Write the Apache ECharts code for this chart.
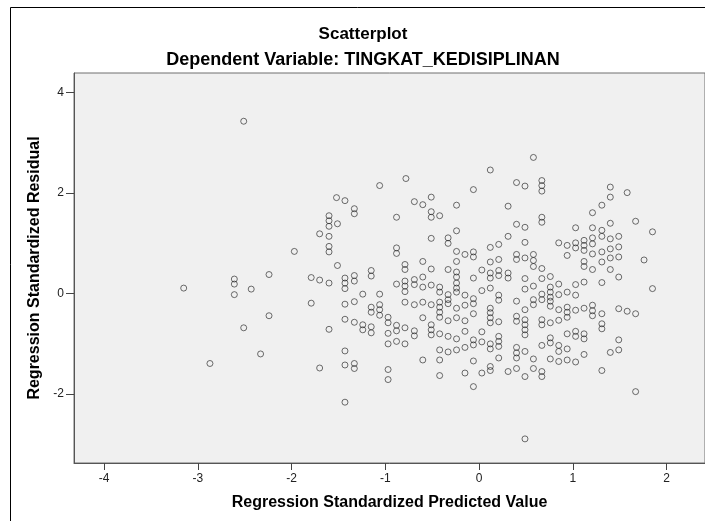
<!DOCTYPE html>
<html><head><meta charset="utf-8">
<script src="https://cdn.jsdelivr.net/npm/echarts@6/dist/echarts.min.js"></script>
<style>html,body{margin:0;padding:0;background:#fff}#c{width:705px;height:521px}</style>
</head><body><div id="c"></div>
<script>
const titleText = 'Scatterplot';
const subtitleText = 'Dependent Variable: TINGKAT_KEDISIPLINAN';
const xAxisName = 'Regression Standardized Predicted Value';
const yAxisName = 'Regression Standardized Residual';
const xTicks = [-4, -3, -2, -1, 0, 1, 2];
const yTicks = [-2, 0, 2, 4];

const predicted = [
  -2.51,-3.15,-2.61,-2.61,-2.61,-2.43,-2.51,-2.87,
  -1.06,-1.52,-1.43,-1.33,-1.33,-0.88,-1.60,-1.60,-1.51,-1.60,-1.70,-1.60,-1.97,-1.60,-1.60,-0.88,-0.88,
  -1.51,-2.24,-1.79,-1.70,-1.60,-1.43,-1.43,-1.43,-1.33,-1.33,-1.15,-1.15,
  -0.88,-1.79,-1.43,-1.33,-1.24,-1.06,-1.15,-1.15,-1.06,-1.06,-1.06,-2.24,
  -1.60,-1.43,-1.33,-1.24,-1.24,-1.15,-1.15,-0.97,-0.97,-0.88,-0.88,-0.97,
  -0.97,-0.88,-2.33,-1.43,-1.70,-1.43,-1.33,-1.33,-0.97,-0.97,-1.43,
  -0.78,-0.69,-0.60,-0.51,-0.51,-0.51,-0.42,-0.24,-0.06,0.12,0.31,0.40,
  0.49,0.58,0.67,0.67,0.67,0.67,0.67,0.40,0.49,0.31,0.49,0.21,
  0.12,-0.24,-0.33,-0.33,-0.51,-0.24,-0.15,-0.06,-0.06,0.40,0.40,0.49,
  0.58,0.58,
  -0.60,-0.24,0.12,0.21,-0.79,-0.79,-0.51,-0.33,-0.24,-0.24,-0.24,-0.24,
  -0.24,-0.06,0.03,0.12,0.12,0.21,0.21,0.31,0.31,0.49,0.67,-0.79,
  -0.79,-0.79,-0.69,-0.69,-0.60,-0.60,-0.51,-0.42,-0.42,-0.33,-0.33,-0.15,
  -0.06,-0.06,0.03,0.12,0.21,0.21,0.40,0.49,0.58,-0.79,-0.69,-0.60,
  -0.51,-0.42,-0.42,-0.42,-0.42,-0.33,-0.24,-0.24,-0.33,-0.15,-0.15,-0.06,
  -0.60,0.12,0.12,0.12,0.12,0.21,0.40,0.40,0.49,0.49,0.49,0.49,
  0.49,0.58,0.58,0.67,0.67,0.67,0.67,-0.79,-0.79,-0.69,-0.69,-0.51,
  -0.51,-0.51,-0.42,-0.33,-0.24,-0.15,-0.06,-0.06,0.03,0.03,0.12,0.12,
  0.21,0.21,0.21,0.21,0.31,0.40,0.40,0.40,0.40,0.49,0.49,0.58,
  0.58,0.67,0.67,0.67,-0.60,-0.42,-0.42,-0.33,-0.24,-0.15,-0.06,-0.42,
  -0.15,0.03,0.12,0.12,-0.06,0.49,0.58,0.67,
  1.40,1.40,1.58,1.31,1.21,1.67,1.40,1.85,1.03,1.21,1.31,1.31,
  1.21,1.40,1.49,0.85,0.94,1.03,1.03,1.12,1.12,1.12,1.21,1.31,
  1.40,1.49,0.94,1.21,1.40,1.49,
  1.76,1.12,1.12,1.21,1.31,1.40,1.49,1.31,1.12,1.03,0.76,0.76,
  0.76,0.76,0.76,0.76,0.85,0.85,0.94,1.03,0.85,0.94,0.94,0.94,
  1.03,1.12,1.21,1.21,1.21,1.31,1.49,1.58,1.67,1.31,1.31,0.76,
  0.85,0.94,1.03,1.03,1.12,1.12,0.76,0.76,0.85,0.85,0.94,1.12,
  1.49,1.49,1.40,0.76,0.85,0.94,1.03,1.31,1.67,1.85
];

const residual = [
  3.43,0.11,0.29,0.19,-0.02,0.09,-0.68,-1.39,
  2.15,1.91,1.85,1.69,1.59,1.52,1.55,1.45,1.39,1.34,1.19,1.14,0.84,0.94,0.83,0.91,0.80,
  0.56,0.38,0.32,0.27,0.21,0.31,0.21,0.10,0.36,0.25,0.46,0.35,
  0.19,-0.19,-0.21,-0.16,-0.01,-0.01,-0.27,-0.37,-0.22,-0.32,-0.43,-0.44,
  -0.71,-0.51,-0.57,-0.62,-0.72,-0.66,-0.78,-0.47,-0.58,-0.63,-0.74,-0.79,
  -1.00,-0.95,-1.20,-1.14,-1.48,-1.42,-1.39,-1.49,-1.51,-1.71,-2.16,
  2.29,1.83,1.77,1.92,1.63,1.52,1.55,1.76,2.07,2.46,1.74,2.21,
  2.14,2.71,2.25,2.15,2.04,1.52,1.42,1.38,1.32,1.14,1.02,0.98,
  0.92,1.25,1.11,1.00,1.10,0.84,0.78,0.83,0.73,0.78,0.68,0.71,
  0.78,0.66,
  0.64,0.64,0.63,0.68,0.58,0.48,0.49,0.48,0.43,0.33,0.21,0.11,
  0.03,0.31,0.47,0.41,0.31,0.46,0.36,0.41,0.31,0.30,0.30,0.25,
  0.15,0.04,0.28,0.18,0.33,0.13,0.17,0.13,0.03,-0.02,-0.12,-0.03,
  -0.10,-0.20,0.06,0.11,-0.03,-0.13,-0.15,0.09,0.15,-0.17,-0.22,-0.17,
  -0.22,-0.17,-0.27,-0.37,-0.47,-0.20,-0.29,-0.48,-0.54,-0.23,-0.54,-0.40,
  -0.48,-0.29,-0.38,-0.48,-0.58,-0.56,-0.45,-0.55,-0.32,-0.52,-0.62,-0.72,
  -0.82,-0.12,-0.22,-0.01,-0.12,-0.52,-0.62,-0.68,-1.00,-0.74,-0.84,-0.62,
  -0.72,-0.82,-0.80,-0.85,-0.90,-0.75,-0.92,-1.02,-0.76,-0.96,-1.00,-1.10,
  -0.85,-0.95,-1.05,-1.28,-1.55,-1.07,-1.18,-1.28,-1.49,-1.15,-1.65,-1.30,
  -1.49,-1.03,-1.55,-1.65,-1.32,-1.12,-1.32,-1.16,-1.12,-1.07,-1.34,-1.63,
  -1.58,-1.58,-1.45,-1.53,-1.85,-2.89,0.54,0.50,
  2.12,1.92,2.01,1.76,1.61,1.44,1.40,1.23,1.31,1.31,1.26,1.14,
  1.11,1.09,1.14,1.01,0.96,1.01,0.91,1.06,0.96,0.86,0.99,0.83,
  0.89,0.93,0.76,0.79,0.71,0.73,
  0.67,0.64,0.54,0.48,0.63,0.48,0.33,0.22,0.23,0.18,0.34,0.13,
  0.03,-0.07,-0.15,-0.25,0.19,-0.02,0.03,-0.03,-0.32,-0.27,-0.37,-0.47,
  -0.33,-0.29,-0.23,-0.34,-0.44,-0.40,-0.30,-0.35,-0.40,-0.60,-0.70,-0.58,
  -0.53,-0.80,-0.75,-0.85,-0.80,-0.90,-0.88,-0.98,-1.03,-1.15,-1.10,-1.21,
  -0.92,-1.12,-1.17,-1.30,-1.35,-1.32,-1.36,-1.53,-1.95,0.10
];

const FONT = '"Liberation Sans", Arial, sans-serif';
const chart = echarts.init(document.getElementById('c'), null, {renderer: 'canvas'});
const points = predicted.map((v, i) => [v, residual[i]]);

chart.setOption({
  animation: false,
  backgroundColor: '#ffffff',
  grid: {
    left: 74, top: 73, right: -10, bottom: 58,
    show: true, backgroundColor: '#f0f0f0', borderColor: '#6e6e6e', borderWidth: 1
  },
  xAxis: {
    type: 'value', min: -4.32, max: 2.41,
    name: xAxisName, nameLocation: 'middle', nameGap: 32,
    nameTextStyle: {fontFamily: FONT, fontWeight: 'bold', fontSize: 16, color: '#000'},
    axisLine: {show: true, onZero: false, lineStyle: {color: '#555', width: 1}},
    axisTick: {show: true, length: 7, customValues: xTicks, lineStyle: {color: '#444'}},
    axisLabel: {customValues: xTicks, margin: 10, fontFamily: FONT, fontSize: 12, color: '#222'},
    splitLine: {show: false}
  },
  yAxis: {
    type: 'value', min: -3.37, max: 4.39,
    name: yAxisName, nameLocation: 'middle', nameGap: 30, nameRotate: 90,
    nameTextStyle: {fontFamily: FONT, fontWeight: 'bold', fontSize: 16, color: '#000'},
    axisLine: {show: true, onZero: false, lineStyle: {color: '#555', width: 1}},
    axisTick: {show: true, length: 8, customValues: yTicks, lineStyle: {color: '#444'}},
    axisLabel: {customValues: yTicks, margin: 10, fontFamily: FONT, fontSize: 12, color: '#222'},
    splitLine: {show: false}
  },
  graphic: [
    {type: 'line', shape: {x1: 10.5, y1: 7.5, x2: 10.5, y2: 521}, style: {stroke: '#000', lineWidth: 1}},
    {type: 'line', shape: {x1: 10.5, y1: 7.5, x2: 705, y2: 7.5}, style: {stroke: '#000', lineWidth: 1}},
    {type: 'text', x: 363, y: 34, style: {text: titleText, font: 'bold 17px ' + FONT, fill: '#000', textAlign: 'center', textVerticalAlign: 'middle'}},
    {type: 'text', x: 363, y: 60, style: {text: subtitleText, font: 'bold 18px ' + FONT, fill: '#000', textAlign: 'center', textVerticalAlign: 'middle'}}
  ],
  series: [{
    type: 'scatter',
    data: points,
    symbol: 'circle',
    symbolSize: 6,
    silent: true,
    itemStyle: {color: 'rgba(0,0,0,0)', borderColor: 'rgba(25,25,25,0.78)', borderWidth: 1}
  }]
});
</script>
</body></html>
